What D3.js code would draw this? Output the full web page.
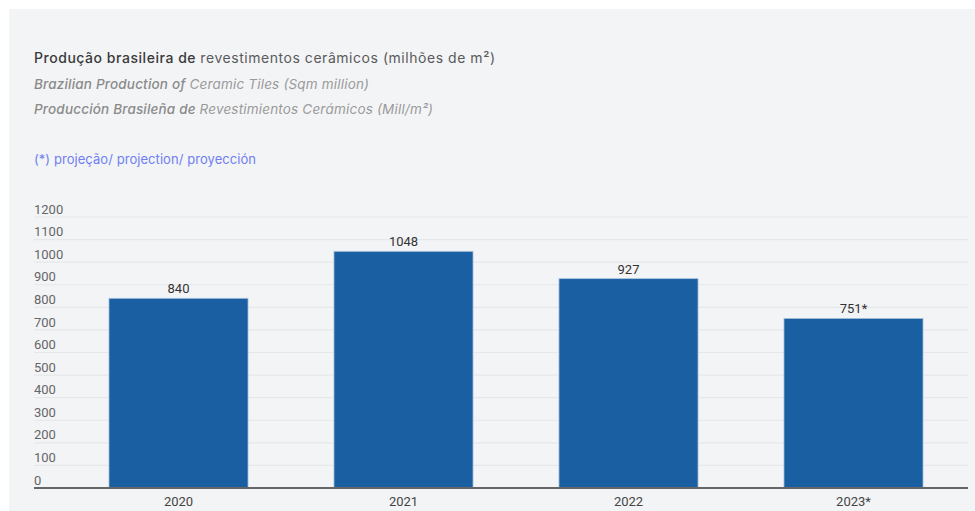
<!DOCTYPE html>
<html>
<head>
<meta charset="utf-8">
<script src="https://cdn.jsdelivr.net/npm/d3@7"></script>
<style>
  html, body { margin: 0; padding: 0; background: #ffffff; }
  svg { display: block; }
</style>
</head>
<body>
<svg id="chart" width="975" height="511"></svg>
<script>
const categories = ["2020", "2021", "2022", "2023*"];
const values = [840, 1048, 927, 751];
const valueLabels = ["840", "1048", "927", "751*"];
const yTicks = [0, 100, 200, 300, 400, 500, 600, 700, 800, 900, 1000, 1100, 1200];

const titleLines = [
  { parts: [["Produção brasileira de ", "#3a3a3a", 500, "normal"], ["revestimentos cerâmicos (milhões de m²)", "#5a5a5a", 400, "normal"]] },
  { parts: [["Brazilian Production of ", "#8a8a8a", 500, "italic"], ["Ceramic Tiles (Sqm million)", "#9a9a9a", 400, "italic"]] },
  { parts: [["Producción Brasileña de ", "#8a8a8a", 500, "italic"], ["Revestimientos Cerámicos (Mill/m²)", "#9a9a9a", 400, "italic"]] }
];
const footnote = "(*) projeção/ projection/ proyección";

const W = 975, H = 511;
const svg = d3.select("#chart");

svg.append("rect").attr("x", 9).attr("y", 9).attr("width", W - 9).attr("height", H - 9).attr("fill", "#f3f4f6");

// Titles
const titleFont = "Inter, 'Open Sans', sans-serif";
const titleY = [63, 89, 114];
const titleW = [461, 335, 399];
const titleSize = [14, 13.5, 13.5];
titleLines.forEach((ln, i) => {
  const t = svg.append("text").attr("x", 34).attr("y", titleY[i])
    .attr("font-family", titleFont).attr("font-size", titleSize[i]);
  ln.parts.forEach(p => {
    t.append("tspan").text(p[0]).attr("fill", p[1]).attr("font-weight", p[2]).attr("font-style", p[3]);
  });
  t.attr("textLength", titleW[i]).attr("lengthAdjust", "spacing");
});
svg.append("text").attr("x", 34).attr("y", 164).attr("font-family", titleFont)
  .attr("font-size", 13).attr("fill", "#6f7ff2")
  .attr("textLength", 222).attr("lengthAdjust", "spacing").text(footnote);

// Scales
const y = d3.scaleLinear().domain([0, 1200]).range([488, 217]);
const x = d3.scaleBand().domain(categories).range([66, 966]).paddingInner(0.382).paddingOuter(0.191);

const axisFont = "Roboto, sans-serif";

// Gridlines
svg.append("g").selectAll("line").data(yTicks.filter(d => d > 0)).join("line")
  .attr("x1", 34).attr("x2", 968)
  .attr("y1", d => y(d)).attr("y2", d => y(d))
  .attr("stroke", "#e6e7ea").attr("stroke-width", 1.2);

// Y axis labels
const yAxis = d3.axisLeft(y).tickValues(yTicks).tickFormat(d3.format("d")).tickSize(0).tickPadding(0);
const gy = svg.append("g").attr("transform", "translate(34,0)").call(yAxis);
gy.select(".domain").remove();
gy.selectAll("text")
  .attr("text-anchor", "start").attr("x", 0).attr("dy", "-0.3em")
  .attr("font-family", axisFont).attr("font-size", 13).attr("fill", "#666");

// Bars
svg.append("g").selectAll("rect").data(values).join("rect")
  .attr("x", (d, i) => x(categories[i]))
  .attr("y", d => y(d))
  .attr("width", x.bandwidth())
  .attr("height", d => y(0) - y(d))
  .attr("fill", "#1b5fa3")
  .attr("stroke", "#a9c3df").attr("stroke-width", 0.8);

// Value labels
svg.append("g").selectAll("text").data(values).join("text")
  .attr("x", (d, i) => x(categories[i]) + x.bandwidth() / 2)
  .attr("y", d => y(d) - 5)
  .attr("text-anchor", "middle")
  .attr("font-family", axisFont).attr("font-size", 13).attr("fill", "#333")
  .text((d, i) => valueLabels[i]);

// X axis
const xAxis = d3.axisBottom(x).tickSize(0).tickPadding(0);
const gx = svg.append("g").attr("transform", "translate(0,488)").call(xAxis);
gx.select(".domain").remove();
gx.selectAll("text").attr("dy", 0).attr("y", 18)
  .attr("font-family", axisFont).attr("font-size", 13).attr("fill", "#444");
svg.append("line").attr("x1", 34).attr("x2", 968).attr("y1", 488).attr("y2", 488)
  .attr("stroke", "#666").attr("stroke-width", 2);
</script>
</body>
</html>
